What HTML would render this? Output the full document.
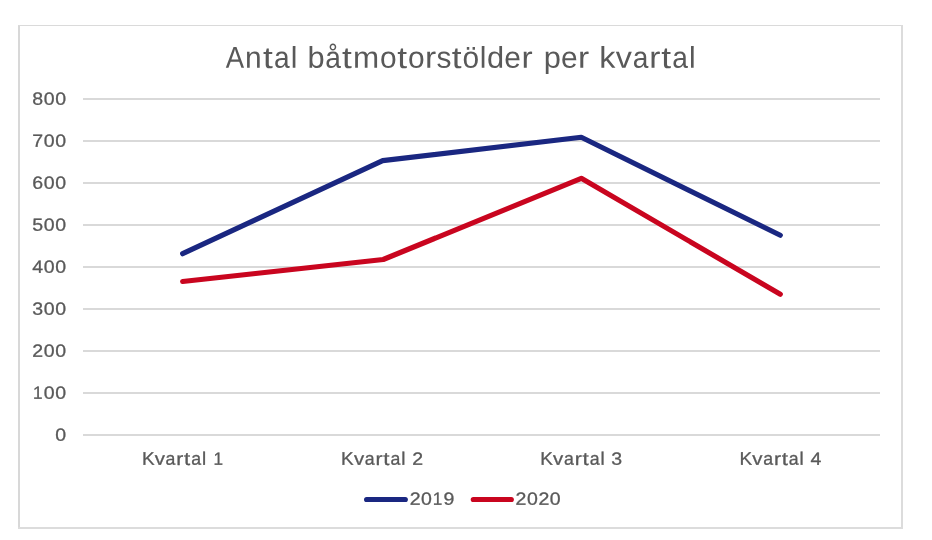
<!DOCTYPE html>
<html>
<head>
<meta charset="utf-8">
<title>Antal båtmotorstölder per kvartal</title>
<style>
  html, body { margin: 0; padding: 0; background: #ffffff; }
  body { width: 932px; height: 540px; overflow: hidden; }
  svg { display: block; }
  text { font-family: "Liberation Sans", sans-serif; fill: #595959; }
</style>
</head>
<body>
<svg width="932" height="540" viewBox="0 0 932 540">
  <rect x="0" y="0" width="932" height="540" fill="#ffffff"/>

  <!-- chart frame -->
  <g shape-rendering="crispEdges">
    <rect x="18" y="25" width="2" height="504" fill="#d8d8d8"/>
    <rect x="18" y="25" width="885" height="1" fill="#dadada"/>
    <rect x="901" y="25" width="2" height="504" fill="#dcdcdc"/>
    <rect x="18" y="527" width="885" height="2" fill="#dcdcdc"/>
  </g>

  <!-- gridlines -->
  <g fill="#d9d9d9" shape-rendering="crispEdges">
    <rect x="83" y="98" width="797" height="2"/>
    <rect x="83" y="140" width="797" height="2"/>
    <rect x="83" y="182" width="797" height="2"/>
    <rect x="83" y="224" width="797" height="2"/>
    <rect x="83" y="266" width="797" height="2"/>
    <rect x="83" y="308" width="797" height="2"/>
    <rect x="83" y="350" width="797" height="2"/>
    <rect x="83" y="392" width="797" height="2"/>
    <rect x="83" y="434" width="797" height="2"/>
  </g>

  <!-- text: title words, y labels, x labels, legend labels -->
  <g class="txt" opacity="0.999">
    <g font-size="30.2" aria-label="Antal">
      <text transform="translate(225.70 67.80) scale(0.9108 1) rotate(0.03)">A</text>
      <text transform="translate(245.08 67.80) scale(0.9900 1) rotate(0.03)">n</text>
      <text transform="translate(262.94 67.80) scale(1.1682 1) rotate(0.03)">t</text>
      <text transform="translate(274.02 67.80) scale(0.9306 1) rotate(0.03)">a</text>
      <text transform="translate(290.83 67.80) scale(0.9900 1) rotate(0.03)">l</text>
    </g>
    <g font-size="30.2" aria-label="båtmotorstölder">
      <text transform="translate(307.38 67.80) scale(1.0197 1) rotate(0.03)">b</text>
      <text transform="translate(325.24 67.80) scale(0.9306 1) rotate(0.03)">å</text>
      <text transform="translate(342.07 67.80) scale(1.1682 1) rotate(0.03)">t</text>
      <text transform="translate(353.02 67.80) scale(1.0395 1) rotate(0.03)">m</text>
      <text transform="translate(379.89 67.80) scale(0.9900 1) rotate(0.03)">o</text>
      <text transform="translate(397.30 67.80) scale(1.1682 1) rotate(0.03)">t</text>
      <text transform="translate(407.90 67.80) scale(0.9900 1) rotate(0.03)">o</text>
      <text transform="translate(425.10 67.80) scale(1.1088 1) rotate(0.03)">r</text>
      <text transform="translate(436.46 67.80) scale(0.9900 1) rotate(0.03)">s</text>
      <text transform="translate(451.84 67.80) scale(1.1682 1) rotate(0.03)">t</text>
      <text transform="translate(462.43 67.80) scale(0.9900 1) rotate(0.03)">ö</text>
      <text transform="translate(479.75 67.80) scale(0.9900 1) rotate(0.03)">l</text>
      <text transform="translate(487.07 67.80) scale(1.0197 1) rotate(0.03)">d</text>
      <text transform="translate(504.37 67.80) scale(0.9900 1) rotate(0.03)">e</text>
      <text transform="translate(521.41 67.80) scale(1.1088 1) rotate(0.03)">r</text>
    </g>
    <g font-size="30.2" aria-label="per">
      <text transform="translate(543.66 67.80) scale(1.0197 1) rotate(0.03)">p</text>
      <text transform="translate(560.97 67.80) scale(0.9900 1) rotate(0.03)">e</text>
      <text transform="translate(578.03 67.80) scale(1.1088 1) rotate(0.03)">r</text>
    </g>
    <g font-size="30.2" aria-label="kvartal">
      <text transform="translate(599.28 67.80) scale(1.0692 1) rotate(0.03)">k</text>
      <text transform="translate(615.77 67.80) scale(1.0692 1) rotate(0.03)">v</text>
      <text transform="translate(632.64 67.80) scale(0.9306 1) rotate(0.03)">a</text>
      <text transform="translate(649.19 67.80) scale(1.1088 1) rotate(0.03)">r</text>
      <text transform="translate(661.30 67.80) scale(1.1682 1) rotate(0.03)">t</text>
      <text transform="translate(672.24 67.80) scale(0.9306 1) rotate(0.03)">a</text>
      <text transform="translate(688.93 67.80) scale(0.9900 1) rotate(0.03)">l</text>
    </g>
    <g font-size="17.75" stroke="#595959" stroke-width="0.3" stroke-linejoin="round" aria-label="800">
      <text transform="translate(32.35 104.85) scale(1.1000 1) rotate(0.03)">8</text>
      <text transform="translate(43.76 104.85) scale(1.1000 1) rotate(0.03)">0</text>
      <text transform="translate(55.16 104.85) scale(1.1000 1) rotate(0.03)">0</text>
    </g>
    <g font-size="17.75" stroke="#595959" stroke-width="0.3" stroke-linejoin="round" aria-label="700">
      <text transform="translate(32.35 146.85) scale(1.1000 1) rotate(0.03)">7</text>
      <text transform="translate(43.76 146.85) scale(1.1000 1) rotate(0.03)">0</text>
      <text transform="translate(55.16 146.85) scale(1.1000 1) rotate(0.03)">0</text>
    </g>
    <g font-size="17.75" stroke="#595959" stroke-width="0.3" stroke-linejoin="round" aria-label="600">
      <text transform="translate(32.35 188.85) scale(1.1000 1) rotate(0.03)">6</text>
      <text transform="translate(43.76 188.85) scale(1.1000 1) rotate(0.03)">0</text>
      <text transform="translate(55.16 188.85) scale(1.1000 1) rotate(0.03)">0</text>
    </g>
    <g font-size="17.75" stroke="#595959" stroke-width="0.3" stroke-linejoin="round" aria-label="500">
      <text transform="translate(32.35 230.85) scale(1.1000 1) rotate(0.03)">5</text>
      <text transform="translate(43.76 230.85) scale(1.1000 1) rotate(0.03)">0</text>
      <text transform="translate(55.16 230.85) scale(1.1000 1) rotate(0.03)">0</text>
    </g>
    <g font-size="17.75" stroke="#595959" stroke-width="0.3" stroke-linejoin="round" aria-label="400">
      <text transform="translate(32.35 272.85) scale(1.1000 1) rotate(0.03)">4</text>
      <text transform="translate(43.76 272.85) scale(1.1000 1) rotate(0.03)">0</text>
      <text transform="translate(55.16 272.85) scale(1.1000 1) rotate(0.03)">0</text>
    </g>
    <g font-size="17.75" stroke="#595959" stroke-width="0.3" stroke-linejoin="round" aria-label="300">
      <text transform="translate(32.35 314.85) scale(1.1000 1) rotate(0.03)">3</text>
      <text transform="translate(43.76 314.85) scale(1.1000 1) rotate(0.03)">0</text>
      <text transform="translate(55.16 314.85) scale(1.1000 1) rotate(0.03)">0</text>
    </g>
    <g font-size="17.75" stroke="#595959" stroke-width="0.3" stroke-linejoin="round" aria-label="200">
      <text transform="translate(32.35 356.85) scale(1.1000 1) rotate(0.03)">2</text>
      <text transform="translate(43.76 356.85) scale(1.1000 1) rotate(0.03)">0</text>
      <text transform="translate(55.16 356.85) scale(1.1000 1) rotate(0.03)">0</text>
    </g>
    <g font-size="17.75" stroke="#595959" stroke-width="0.3" stroke-linejoin="round" aria-label="100">
      <text transform="translate(33.01 398.85) scale(0.9680 1) rotate(0.03)">1</text>
      <text transform="translate(43.76 398.85) scale(1.1000 1) rotate(0.03)">0</text>
      <text transform="translate(55.16 398.85) scale(1.1000 1) rotate(0.03)">0</text>
    </g>
    <g font-size="17.75" stroke="#595959" stroke-width="0.3" stroke-linejoin="round" aria-label="0">
      <text transform="translate(55.16 440.85) scale(1.1000 1) rotate(0.03)">0</text>
    </g>
    <g font-size="18.15" stroke="#595959" stroke-width="0.3" stroke-linejoin="round" aria-label="Kvartal">
      <text transform="translate(141.88 464.65) scale(1.0400 1) rotate(0.03)">K</text>
      <text transform="translate(154.68 464.65) scale(1.1232 1) rotate(0.03)">v</text>
      <text transform="translate(165.60 464.65) scale(0.9776 1) rotate(0.03)">a</text>
      <text transform="translate(176.29 464.65) scale(1.1648 1) rotate(0.03)">r</text>
      <text transform="translate(184.12 464.65) scale(1.2272 1) rotate(0.03)">t</text>
      <text transform="translate(191.26 464.65) scale(0.9776 1) rotate(0.03)">a</text>
      <text transform="translate(201.99 464.65) scale(1.0400 1) rotate(0.03)">l</text>
    </g>
    <g font-size="18.15" stroke="#595959" stroke-width="0.3" stroke-linejoin="round" aria-label="Kvartal">
      <text transform="translate(341.08 464.65) scale(1.0400 1) rotate(0.03)">K</text>
      <text transform="translate(353.88 464.65) scale(1.1232 1) rotate(0.03)">v</text>
      <text transform="translate(364.80 464.65) scale(0.9776 1) rotate(0.03)">a</text>
      <text transform="translate(375.49 464.65) scale(1.1648 1) rotate(0.03)">r</text>
      <text transform="translate(383.32 464.65) scale(1.2272 1) rotate(0.03)">t</text>
      <text transform="translate(390.46 464.65) scale(0.9776 1) rotate(0.03)">a</text>
      <text transform="translate(401.19 464.65) scale(1.0400 1) rotate(0.03)">l</text>
    </g>
    <g font-size="18.15" stroke="#595959" stroke-width="0.3" stroke-linejoin="round" aria-label="Kvartal">
      <text transform="translate(540.28 464.65) scale(1.0400 1) rotate(0.03)">K</text>
      <text transform="translate(553.08 464.65) scale(1.1232 1) rotate(0.03)">v</text>
      <text transform="translate(564.00 464.65) scale(0.9776 1) rotate(0.03)">a</text>
      <text transform="translate(574.69 464.65) scale(1.1648 1) rotate(0.03)">r</text>
      <text transform="translate(582.52 464.65) scale(1.2272 1) rotate(0.03)">t</text>
      <text transform="translate(589.66 464.65) scale(0.9776 1) rotate(0.03)">a</text>
      <text transform="translate(600.39 464.65) scale(1.0400 1) rotate(0.03)">l</text>
    </g>
    <g font-size="18.15" stroke="#595959" stroke-width="0.3" stroke-linejoin="round" aria-label="Kvartal">
      <text transform="translate(739.48 464.65) scale(1.0400 1) rotate(0.03)">K</text>
      <text transform="translate(752.28 464.65) scale(1.1232 1) rotate(0.03)">v</text>
      <text transform="translate(763.20 464.65) scale(0.9776 1) rotate(0.03)">a</text>
      <text transform="translate(773.89 464.65) scale(1.1648 1) rotate(0.03)">r</text>
      <text transform="translate(781.72 464.65) scale(1.2272 1) rotate(0.03)">t</text>
      <text transform="translate(788.86 464.65) scale(0.9776 1) rotate(0.03)">a</text>
      <text transform="translate(799.59 464.65) scale(1.0400 1) rotate(0.03)">l</text>
    </g>
    <g font-size="17.75" stroke="#595959" stroke-width="0.3" stroke-linejoin="round" aria-label="1">
      <text transform="translate(213.53 464.65) scale(0.9680 1) rotate(0.03)">1</text>
    </g>
    <g font-size="17.75" stroke="#595959" stroke-width="0.3" stroke-linejoin="round" aria-label="2">
      <text transform="translate(412.16 464.65) scale(1.1000 1) rotate(0.03)">2</text>
    </g>
    <g font-size="17.75" stroke="#595959" stroke-width="0.3" stroke-linejoin="round" aria-label="3">
      <text transform="translate(611.36 464.65) scale(1.1000 1) rotate(0.03)">3</text>
    </g>
    <g font-size="17.75" stroke="#595959" stroke-width="0.3" stroke-linejoin="round" aria-label="4">
      <text transform="translate(810.51 464.65) scale(1.1000 1) rotate(0.03)">4</text>
    </g>
    <g font-size="17.75" stroke="#595959" stroke-width="0.3" stroke-linejoin="round" aria-label="2019">
      <text transform="translate(409.65 504.65) scale(1.1000 1) rotate(0.03)">2</text>
      <text transform="translate(420.92 504.65) scale(1.1000 1) rotate(0.03)">0</text>
      <text transform="translate(432.85 504.65) scale(0.9680 1) rotate(0.03)">1</text>
      <text transform="translate(443.47 504.65) scale(1.1000 1) rotate(0.03)">9</text>
    </g>
    <g font-size="17.75" stroke="#595959" stroke-width="0.3" stroke-linejoin="round" aria-label="2020">
      <text transform="translate(515.49 504.65) scale(1.1000 1) rotate(0.03)">2</text>
      <text transform="translate(526.93 504.65) scale(1.1000 1) rotate(0.03)">0</text>
      <text transform="translate(538.38 504.65) scale(1.1000 1) rotate(0.03)">2</text>
      <text transform="translate(549.82 504.65) scale(1.1000 1) rotate(0.03)">0</text>
    </g>
  </g>

  <!-- series -->
  <g fill="none" stroke-width="5.15" stroke-linecap="round" stroke-linejoin="round">
    <polyline stroke="#1a2781" points="182.65,253.7 382.7,160.6 581.3,137.3 780.3,235.2"/>
    <polyline stroke="#c9051f" points="182.65,281.5 383.2,259.5 581.3,178.3 780.3,294.2"/>
  </g>

  <!-- legend keys -->
  <g fill="none" stroke-width="5.15" stroke-linecap="round">
    <line x1="366.6" y1="499.5" x2="405.3" y2="499.5" stroke="#1a2781"/>
    <line x1="473.3" y1="499.5" x2="511.3" y2="499.5" stroke="#c9051f"/>
  </g>
</svg>
</body>
</html>
